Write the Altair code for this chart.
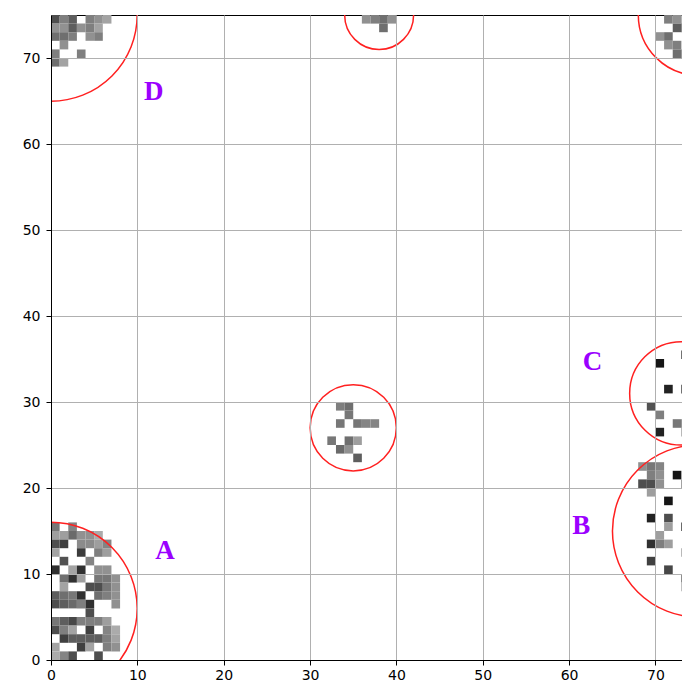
import altair as alt
import pandas as pd

# ---- grid cells: lower-left corner (cell_x, cell_y) and darkness (0 white .. 1 black)
cell_x = [
    # cluster A
    0, 2,
    0, 1, 2, 3, 4, 5,
    0, 1, 3, 4, 5, 6,
    0, 3, 5, 6,
    1, 4,
    0, 2, 3, 5, 6,
    1, 2, 3, 5, 6, 7,
    1, 4, 5, 6, 7,
    0, 1, 2, 3, 5, 6, 7,
    0, 1, 2, 3, 4, 7,
    4,
    0, 1, 2, 3, 4, 5, 6,
    0, 1, 2, 4, 6, 7,
    1, 2, 3, 4, 5, 6, 7,
    0, 3, 4, 6, 7,
    0, 1, 2, 5,
    # cluster D
    0, 1, 2, 4, 5, 6,
    0, 1, 2, 3, 4, 5,
    0, 1, 2, 4, 5,
    1,
    0, 3,
    0, 1,
    # top middle
    36, 37, 38, 39, 38,
    # top right
    71, 72, 73, 72, 73, 70, 71, 71, 72, 72, 73,
    # middle
    33, 34, 34, 33, 35, 36, 37, 32, 34, 35, 33, 34, 35,
    # cluster C
    73, 70, 71, 73, 69, 70, 72, 73, 73, 70,
    # cluster B
    68, 69, 70, 69, 70, 72, 68, 69, 70, 73, 69, 71, 69, 71, 71, 73,
    70, 69, 70, 71, 73, 69, 71, 73, 73,
]
cell_y = [
    15, 15,
    14, 14, 14, 14, 14, 14,
    13, 13, 13, 13, 13, 13,
    12, 12, 12, 12,
    11, 11,
    10, 10, 10, 10, 10,
    9, 9, 9, 9, 9, 9,
    8, 8, 8, 8, 8,
    7, 7, 7, 7, 7, 7, 7,
    6, 6, 6, 6, 6, 6,
    5,
    4, 4, 4, 4, 4, 4, 4,
    3, 3, 3, 3, 3, 3,
    2, 2, 2, 2, 2, 2, 2,
    1, 1, 1, 1, 1,
    0, 0, 0, 0,
    74, 74, 74, 74, 74, 74,
    73, 73, 73, 73, 73, 73,
    72, 72, 72, 72, 72,
    71,
    70, 70,
    69, 69,
    74, 74, 74, 74, 73,
    74, 74, 74, 73, 73, 72, 72, 71, 71, 70, 70,
    29, 29, 28, 27, 27, 27, 27, 25, 25, 25, 24, 24, 23,
    35, 34, 31, 31, 29, 28, 27, 27, 26, 26,
    22, 22, 22, 21, 21, 21, 20, 20, 20, 20, 19, 18, 16, 16, 15, 15,
    14, 13, 13, 13, 12, 11, 10, 9, 8,
]
cell_v = [
    0.50, 0.45,
    0.35, 0.35, 0.55, 0.40, 0.40, 0.30,
    0.67, 0.73, 0.42, 0.42, 0.35, 0.45,
    0.33, 0.75, 0.47, 0.35,
    0.65, 0.45,
    0.80, 0.33, 0.80, 0.40, 0.40,
    0.53, 0.80, 0.35, 0.50, 0.50, 0.40,
    0.33, 0.67, 0.67, 0.50, 0.40,
    0.60, 0.53, 0.50, 0.80, 0.53, 0.47, 0.40,
    0.67, 0.60, 0.55, 0.47, 0.80, 0.40,
    0.67,
    0.50, 0.60, 0.70, 0.47, 0.47, 0.47, 0.35,
    0.67, 0.47, 0.33, 0.73, 0.45, 0.30,
    0.73, 0.60, 0.60, 0.60, 0.60, 0.47, 0.33,
    0.33, 0.73, 0.33, 0.47, 0.40,
    0.30, 0.45, 0.67, 0.67,
    0.67, 0.47, 0.60, 0.47, 0.40, 0.33,
    0.40, 0.40, 0.60, 0.40, 0.47, 0.33,
    0.53, 0.53, 0.47, 0.40, 0.47,
    0.40,
    0.47, 0.47,
    0.53, 0.33,
    0.40, 0.47, 0.53, 0.40, 0.53,
    0.47, 0.40, 0.33, 0.60, 0.53, 0.40, 0.53, 0.40, 0.47, 0.53, 0.47,
    0.47, 0.53, 0.50, 0.50, 0.50, 0.45, 0.45, 0.50, 0.53, 0.35, 0.55, 0.40, 0.60,
    0.87, 0.93, 0.87, 0.87, 0.65, 0.47, 0.50, 0.50, 0.40, 0.87,
    0.40, 0.50, 0.45, 0.47, 0.40, 0.93, 0.67, 0.67, 0.40, 0.53, 0.35, 0.93, 0.87, 0.67, 0.35, 0.93,
    0.35, 0.80, 0.47, 0.35, 0.40, 0.73, 0.70, 0.67, 0.35,
]

# ---- circles: centre and radius (data units)
circ_x = [0, 75, 73, 0, 35, 38, 75]
circ_y = [6, 15, 31, 75, 27, 75, 75]
circ_r = [10, 10, 6, 10, 5, 4, 7]

# ---- labels
lab_text = ["A", "B", "C", "D"]
lab_x = [13.2, 61.4, 62.7, 11.9]
lab_y = [12.7, 15.6, 34.7, 66.1]

x_ticks = [0, 10, 20, 30, 40, 50, 60, 70]
y_ticks = [0, 10, 20, 30, 40, 50, 60, 70]

X_DOM = [0, 74]
Y_DOM = [0, 75]
W, H = 639, 645
PX_PER_UNIT = (W / 74 + H / 75) / 2

cells = pd.DataFrame({"x": cell_x, "y": cell_y, "v": cell_v})
circles = pd.DataFrame({"x": circ_x, "y": circ_y, "r": circ_r})
labels = pd.DataFrame({"x": lab_x, "y": lab_y, "t": lab_text})

xs = alt.Scale(domain=X_DOM, nice=False, zero=False)
ys = alt.Scale(domain=Y_DOM, nice=False, zero=False)
xax = alt.Axis(values=x_ticks, labelFlush=False, title=None, zindex=1, labelPadding=3)
yax = alt.Axis(values=y_ticks, labelFlush=False, title=None, zindex=1, labelPadding=6)

rects = alt.Chart(cells).transform_calculate(
    x2="datum.x + 1", y2="datum.y + 1"
).mark_rect(stroke=None, clip=True).encode(
    x=alt.X("x:Q", scale=xs, axis=xax),
    x2="x2:Q",
    y=alt.Y("y:Q", scale=ys, axis=yax),
    y2="y2:Q",
    color=alt.Color("v:Q", scale=alt.Scale(domain=[0, 1], range=["#ffffff", "#000000"]), legend=None),
)

max_r = 10
rings = alt.Chart(circles).mark_point(
    shape="circle", filled=False, color="#ff2020", strokeWidth=1.5, clip=True, opacity=1
).encode(
    x=alt.X("x:Q", scale=xs),
    y=alt.Y("y:Q", scale=ys),
    size=alt.Size("r:Q", scale=alt.Scale(type="pow", exponent=2, domain=[0, max_r],
                                         range=[0, (2 * PX_PER_UNIT * max_r) ** 2]), legend=None),
)

texts = alt.Chart(labels).mark_text(
    font="Liberation Serif", fontWeight="bold", fontSize=27, color="#9b00ff"
).encode(
    x=alt.X("x:Q", scale=xs),
    y=alt.Y("y:Q", scale=ys),
    text="t:N",
)

chart = alt.layer(rects, rings, texts).properties(
    width=W, height=H,
    autosize=alt.AutoSizeParams(type="none"),
    padding={"left": 43, "top": 7, "right": -8, "bottom": 23},
).configure_view(
    stroke="black", strokeWidth=1
).configure_axis(
    grid=True, gridColor="#b0b0b0", gridWidth=1,
    domainColor="black", tickColor="black", tickSize=5,
    labelColor="black", labelFont="DejaVu Sans", labelFontSize=14,
)

chart.save("out.html", embed_options={"renderer": "svg", "actions": False})
